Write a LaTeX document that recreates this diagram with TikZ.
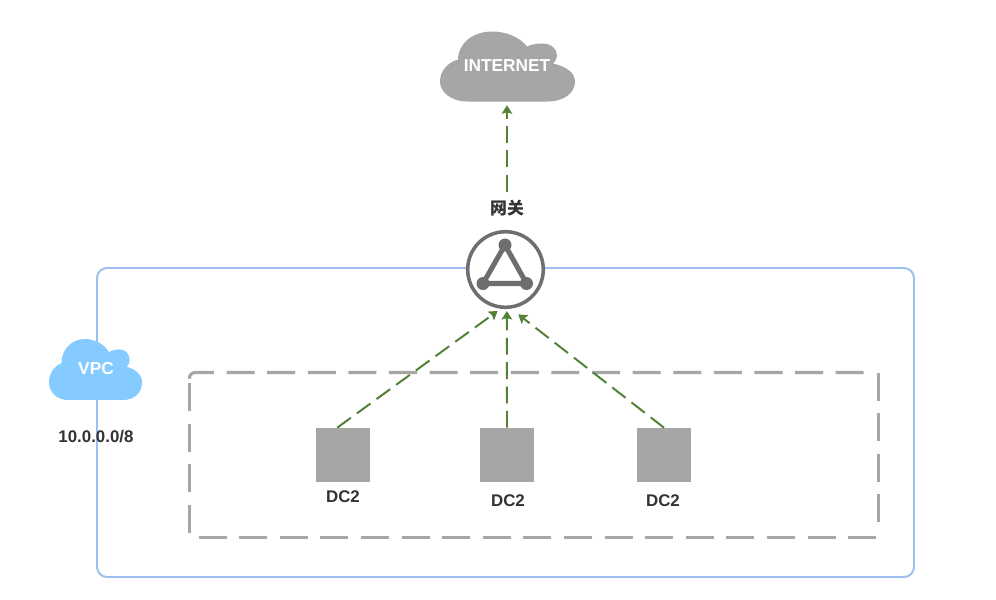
\documentclass[tikz,border=0pt]{standalone}
\usepackage{fontspec}
\setmainfont{Liberation Sans}
\newfontfamily\cjkfont{Noto Sans CJK SC}
\usetikzlibrary{arrows.meta}
\definecolor{vpcblue}{HTML}{9DBFF0}
\definecolor{cloudblue}{HTML}{85CBFF}
\definecolor{boxgray}{HTML}{A6A6A6}
\definecolor{gwgray}{HTML}{6E6E6E}
\definecolor{linkgreen}{HTML}{538135}
\definecolor{labeltext}{HTML}{333333}
\tikzset{
  cloudshape/.pic={
    \fill (27,70) .. controls (12,70) and (0,61) .. (0,50)
      .. controls (0,39) and (8,31) .. (18,28)
      .. controls (18,12) and (33,0) .. (52,0)
      .. controls (67,0) and (80,6) .. (87,15)
      .. controls (91,13) and (97,12) .. (102,12)
      .. controls (111,12) and (117,17) .. (117,24)
      .. controls (117,27) and (116,29) .. (113,32)
      .. controls (126,35) and (135,41) .. (135,50)
      .. controls (135,62) and (123,70) .. (108,70) -- cycle;
  },
  cloudtext/.style={text=white,font=\bfseries\fontsize{12.3}{14}\selectfont,inner sep=0pt},
  dclabel/.style={text=labeltext,font=\bfseries\fontsize{12}{14}\selectfont,inner sep=0pt},
  dcbox/.style={fill=boxgray,minimum size=1.35cm,inner sep=0pt},
  gwcircle/.style={draw=gwgray,fill=white,circle,line width=2.5pt,minimum size=1.89cm,inner sep=0pt},
  framedash/.style={boxgray,line width=2.2pt,dash pattern=on 19.92pt off 8.96pt},
  dashlink/.style={linkgreen,line width=1.4pt,dash pattern=on 12pt off 5.3pt,-{Stealth[length=6pt,width=7.5pt,inset=1pt]}}
}
\begin{document}
\begin{tikzpicture}[x=0.025cm,y=-0.025cm]
\useasboundingbox (0,0) rectangle (996,600);
\fill[white] (0,0) rectangle (996,600);
% vpc and subnet frames
\draw[vpcblue,line width=1.4pt,rounded corners=0.25cm] (97,268) rectangle (914,577);
\draw[framedash,rounded corners=0.15cm] (189.3,378.5) -- (189.3,372.5) -- (865,372.5);
\draw[framedash] (878.3,372.5) -- (878.3,523);
\draw[framedash,rounded corners=0.05cm] (876.3,537.3) -- (189.3,537.3) -- (189.3,381);
% clouds
\pic[boxgray] at (440,31.5) {cloudshape};
\pic[cloudblue,xscale=0.689,yscale=0.871] at (49,339) {cloudshape};
\node[cloudtext,minimum width=3.375cm,minimum height=1.75cm] (internet) at (507,66) {INTERNET};
\node[cloudtext] (vpc) at (96,368.5) {VPC};
\node[dclabel] (cidr) at (96,437) {10.0.0.0/8};
% gateway
\node[dclabel,font=\cjkfont\bfseries\fontsize{12}{14}\selectfont] (gwlabel) at (507,208) {网关};
\node[gwcircle] (gw) at (505.5,269.5) {};
\coordinate (gwtop) at (505,245);
\coordinate (gwleft) at (483,283.5);
\coordinate (gwright) at (526.5,283.5);
\draw[gwgray,line width=3.6pt] (gwtop) -- (gwleft) -- (gwright) -- cycle;
\fill[gwgray] (gwtop) circle (6.5);
\fill[gwgray] (gwleft) circle (6.5);
\fill[gwgray] (gwright) circle (6.5);
% dc boxes
\node[dcbox] (dca) at (343,455) {};
\node[dcbox] (dcb) at (507,455) {};
\node[dcbox] (dcc) at (664,455) {};
\node[dclabel] (dcalabel) at (343,497) {DC2};
\node[dclabel] (dcblabel) at (508,501) {DC2};
\node[dclabel] (dcclabel) at (663,501) {DC2};
% links
\draw[dashlink,shorten <=0.2cm,shorten >=0.1cm] (gwlabel) -- (internet);
\draw[dashlink,shorten >=0.093cm] (dca.102.5) -- (gw.263.5);
\draw[dashlink,shorten >=0.05cm] (dcb.north) -- (gw.272);
\draw[dashlink,shorten >=0.23cm] (dcc.north) -- (gw.278.1);
\end{tikzpicture}
\end{document}
